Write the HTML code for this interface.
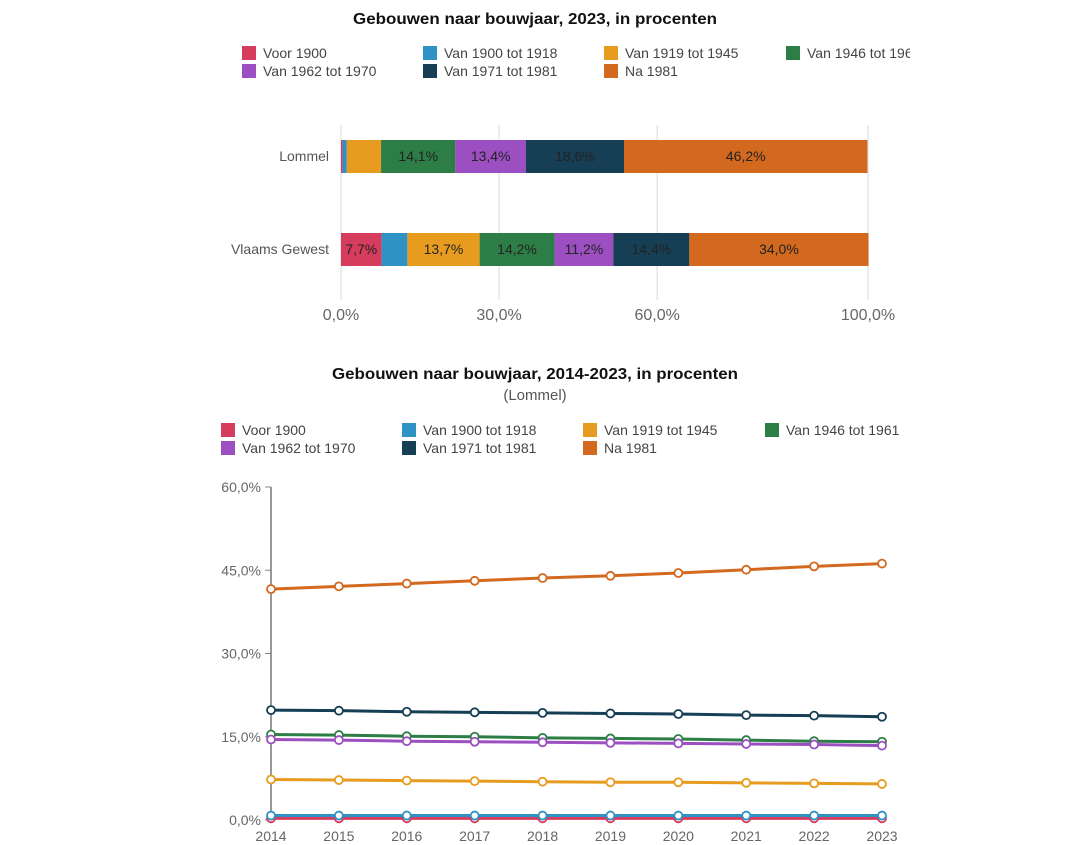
<!DOCTYPE html>
<html><head><meta charset="utf-8">
<style>
body{margin:0;background:#fff;width:1079px;height:845px;overflow:hidden;font-family:"Liberation Sans",sans-serif;}
svg{display:block}
</style></head>
<body>
<svg id="s" width="1079" height="845">
<defs><clipPath id="legclip"><rect x="0" y="0" width="910" height="100"/></clipPath></defs>
<text x="353" y="24" textLength="364" lengthAdjust="spacingAndGlyphs" font-size="16" font-weight="bold" fill="#111">Gebouwen naar bouwjaar, 2023, in procenten</text>
<g id="leg1" clip-path="url(#legclip)"></g>
<g id="bars"></g>
<text x="332" y="379" textLength="406" lengthAdjust="spacingAndGlyphs" font-size="16" font-weight="bold" fill="#111">Gebouwen naar bouwjaar, 2014-2023, in procenten</text>
<text x="535" y="400" text-anchor="middle" font-size="15" fill="#555">(Lommel)</text>
<g id="leg2"></g>
<g id="lines"></g>
</svg>
<script>
const seriesNames=["Voor 1900","Van 1900 tot 1918","Van 1919 tot 1945","Van 1946 tot 1961","Van 1962 tot 1970","Van 1971 tot 1981","Na 1981"];
const seriesColors=["#d63c5e","#2e93c4","#e89c1f","#2d7d46","#9c4fc0","#163f55","#d2691e"];
const barCategories=["Lommel","Vlaams Gewest"];
const barLommel=[0.3,0.8,6.5,14.1,13.4,18.6,46.2];
const barVlaams=[7.7,4.9,13.7,14.2,11.2,14.4,34.0];
const barTicks=[0,30,60,100];
const years=[2014,2015,2016,2017,2018,2019,2020,2021,2022,2023];
const lineVoor1900=[0.3,0.3,0.3,0.3,0.3,0.3,0.3,0.3,0.3,0.3];
const line1900=[0.8,0.8,0.8,0.8,0.8,0.8,0.8,0.8,0.8,0.8];
const line1919=[7.3,7.2,7.1,7.0,6.9,6.8,6.8,6.7,6.6,6.5];
const line1946=[15.4,15.3,15.1,15.0,14.8,14.7,14.6,14.4,14.2,14.1];
const line1962=[14.5,14.4,14.2,14.1,14.0,13.9,13.8,13.7,13.6,13.4];
const line1971=[19.8,19.7,19.5,19.4,19.3,19.2,19.1,18.9,18.8,18.6];
const lineNa1981=[41.6,42.1,42.6,43.1,43.6,44.0,44.5,45.1,45.7,46.2];
const lineTicks=[0,15,30,45,60];
const NS="http://www.w3.org/2000/svg";
function mk(p,t,a,txt){const e=document.createElementNS(NS,t);for(const k in a)e.setAttribute(k,a[k]);if(txt!==undefined)e.textContent=txt;p.appendChild(e);return e;}
const fmt=v=>v.toFixed(1).replace('.',',')+'%';
function legend(g,xs,ys){
  seriesNames.forEach((n,i)=>{
    const x=xs[i%4],y=ys[Math.floor(i/4)];
    const gg=mk(g,'g',{});
    
    
    mk(gg,'rect',{x:x,y:y-7,width:14,height:14,fill:seriesColors[i]});
    mk(gg,'text',{x:x+21,y:y+5,'font-size':14,fill:'#444'},n);
  });
}
legend(document.getElementById('leg1'),[242,423,604,786],[53,71]);
legend(document.getElementById('leg2'),[221,402,583,765],[430,448]);
// bar chart
const bg=document.getElementById('bars');
const bx=v=>341+v*(868-341)/100;
barTicks.forEach(t=>{
  const l=mk(bg,'line',{x1:bx(t),x2:bx(t),y1:125,y2:300,stroke:'#e6e6e6','stroke-width':1.5});
  
  
  const tx=mk(bg,'text',{x:bx(t),y:320,'text-anchor':'middle','font-size':16,fill:'#666'},fmt(t));
  
  
});
[barLommel,barVlaams].forEach((vals,r)=>{
  const y=[140,233][r];
  const lab=mk(bg,'text',{x:329,y:y+21,'text-anchor':'end','font-size':14,fill:'#555'},barCategories[r]);
  
  
  let acc=0;
  vals.forEach((v,i)=>{
    const x0=bx(acc),x1=bx(acc+v);acc+=v;
    const rc=mk(bg,'rect',{x:x0,y:y,width:x1-x0,height:33,fill:seriesColors[i]});
    
    
    if(v>=7){const t=mk(bg,'text',{x:(x0+x1)/2,y:y+21,'text-anchor':'middle','font-size':14,fill:'#222'},fmt(v));
      
      }
  });
});
// line chart
const lg=document.getElementById('lines');
const lx=i=>271+i*(882-271)/(years.length-1);
const ly=v=>820-v*(820-487)/60;
lineTicks.forEach(t=>{
  const tl=mk(lg,'line',{x1:265,x2:271,y1:ly(t),y2:ly(t),stroke:'#888'});
  
  
  const tx=mk(lg,'text',{x:261,y:ly(t)+5,'text-anchor':'end','font-size':14,fill:'#666'},fmt(t));
  
  
});
const ax=mk(lg,'line',{x1:271,x2:271,y1:487,y2:822,stroke:'#777','stroke-width':1.5});


years.forEach((y,i)=>{
  const tx=mk(lg,'text',{x:lx(i),y:841,'text-anchor':'middle','font-size':14,fill:'#666'},y);
  
  
});
[lineVoor1900,line1900,line1919,line1946,line1962,line1971,lineNa1981].forEach((vals,s)=>{
  const p=mk(lg,'polyline',{points:vals.map((v,i)=>lx(i)+','+ly(v)).join(' '),fill:'none',stroke:seriesColors[s],'stroke-width':3});
  
  
  vals.forEach((v,i)=>{
    const c=mk(lg,'circle',{cx:lx(i),cy:ly(v),r:4,fill:'#fff',stroke:seriesColors[s],'stroke-width':1.8});
    
    
  });
});
</script>
</body></html>
